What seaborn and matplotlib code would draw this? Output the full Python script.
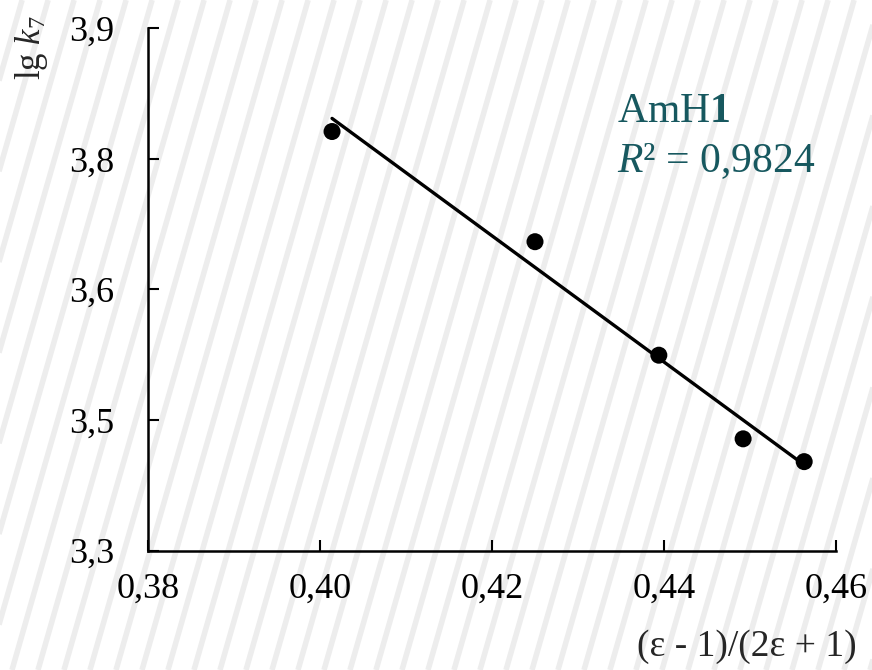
import numpy as np
import pandas as pd
import matplotlib
matplotlib.use("Agg")
import matplotlib.pyplot as plt
import seaborn as sns

# ---- data ----
x_vals = [0.4014, 0.4250, 0.4394, 0.4492, 0.4563]
y_vals = [3.7814, 3.6548, 3.5244, 3.4283, 3.4021]
x_ticks = [0.38, 0.40, 0.42, 0.44, 0.46]
x_tick_labels = ["0,38", "0,40", "0,42", "0,44", "0,46"]
y_ticks = [3.30, 3.45, 3.60, 3.75, 3.90]
y_tick_labels = ["3,3", "3,5", "3,6", "3,8", "3,9"]
series_name = "AmH"
r2_text = "0,9824"

df = pd.DataFrame({"x": x_vals, "y": y_vals})

sns.set_style("ticks")
plt.rcParams["font.family"] = ["Liberation Serif", "DejaVu Serif"]
plt.rcParams["mathtext.fontset"] = "custom"
plt.rcParams["mathtext.rm"] = "Liberation Serif"
plt.rcParams["mathtext.it"] = "Liberation Serif:italic"
plt.rcParams["mathtext.bf"] = "Liberation Serif:bold"

W, H = 872, 670
fig = plt.figure(figsize=(W / 100, H / 100), dpi=100)
fig.patch.set_facecolor("white")

# decorative striped background
bg = fig.add_axes([0, 0, 1, 1], zorder=0)
bg.set_xlim(0, W)
bg.set_ylim(0, H)
bg.axis("off")
ang = np.deg2rad(74)
dx = H / np.tan(ang)
for x0 in np.arange(-300, W + 50, 26):
    bg.plot([x0, x0 + dx], [0, H], color="#ededed", lw=4, solid_capstyle="butt")

ax = fig.add_axes([148 / W, 1 - 550.5 / H, (836 - 148) / W, (550.5 - 28.3) / H], zorder=1)
ax.patch.set_alpha(0)

sns.regplot(data=df, x="x", y="y", ax=ax, ci=None, truncate=True,
            scatter_kws=dict(s=150, color="black", alpha=1, edgecolor="none", zorder=3),
            line_kws=dict(color="black", lw=2.4, zorder=2))

ax.set_xlim(0.38, 0.46)
ax.set_ylim(3.3, 3.9)
ax.set_xticks(x_ticks)
ax.set_xticklabels(x_tick_labels)
ax.set_yticks(y_ticks)
ax.set_yticklabels(y_tick_labels)
ax.tick_params(direction="in", length=8, width=1.5, labelsize=26, colors="black")
ax.tick_params(axis="x", pad=16)
ax.tick_params(axis="y", pad=24)
for s in ["top", "right"]:
    ax.spines[s].set_visible(False)
for s in ["left", "bottom"]:
    ax.spines[s].set_linewidth(1.8)
    ax.spines[s].set_color("black")
ax.set_xlabel("")
ax.set_ylabel("")

teal = "#17585f"
fig.text(617 / W, 1 - 122 / H, series_name + r"$\mathbf{1}$", fontsize=30, color=teal,
         ha="left", va="baseline")
fig.text(617 / W, 1 - 172 / H, r"$R$² = " + r2_text, fontsize=30, color=teal,
         ha="left", va="baseline")

fig.text(857 / W, 1 - 656 / H, "(ε - 1)/(2ε + 1)", fontsize=27, ha="right", va="baseline")
fig.text(31 / W, 1 - 15 / H, r"lg $k_7$", fontsize=25, rotation=90, ha="center", va="top")

fig.savefig("out.png", dpi=100, facecolor="white")
